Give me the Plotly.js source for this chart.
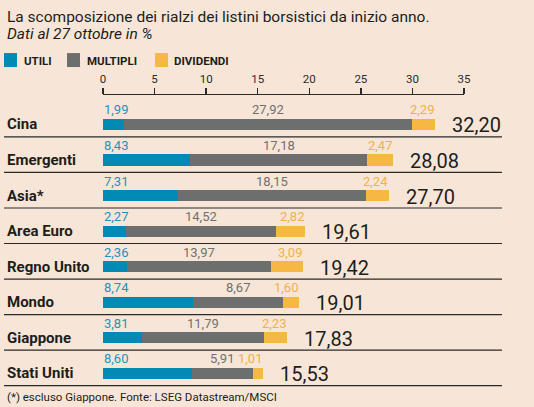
<!DOCTYPE html>
<html>
<head>
<meta charset="utf-8">
<script src="https://cdn.plot.ly/plotly-3.0.1.min.js"></script>
<style>
html,body{margin:0;padding:0;background:#f7e6d7;}
#chart{width:534px;height:407px;}
</style>
</head>
<body>
<div id="chart"></div>
<script>
var categories = ["Cina","Emergenti","Asia*","Area Euro","Regno Unito","Mondo","Giappone","Stati Uniti"];
var utili     = [1.99, 8.43, 7.31, 2.27, 2.36, 8.74, 3.81, 8.60];
var multipli  = [27.92, 17.18, 18.15, 14.52, 13.97, 8.67, 11.79, 5.91];
var dividendi = [2.29, 2.47, 2.24, 2.82, 3.09, 1.60, 2.23, 1.01];
var totali    = [32.20, 28.08, 27.70, 19.61, 19.42, 19.01, 17.83, 15.53];
var tickVals  = [0, 5, 10, 15, 20, 25, 30, 35];
var seriesNames = ["UTILI", "MULTIPLI", "DIVIDENDI"];

var C_BLUE = "#008ab4", C_GRAY = "#6d6f6e", C_YEL = "#f5b843";
var C_BLUE_T = "#1b93bf", C_GRAY_T = "#6f7170", C_YEL_T = "#eeb24a";
var BG = "#f7e6d7";
var FONT = "Roboto, 'Open Sans', sans-serif";

function fmt(v){ return v.toFixed(2).replace(".", ","); }

var W = 534, H = 407;
var L = 103, R = 70, T = 95, B = 15.5;
var plotW = W - L - R, plotH = H - T - B;
function px2paperX(px){ return (px - L) / plotW; }
function px2paperY(py){ return (H - B - py) / plotH; }

var traces = [
  {type:"bar", orientation:"h", y:categories, x:utili, name:seriesNames[0], marker:{color:C_BLUE}, hoverinfo:"x+name"},
  {type:"bar", orientation:"h", y:categories, x:multipli, name:seriesNames[1], marker:{color:C_GRAY}, hoverinfo:"x+name"},
  {type:"bar", orientation:"h", y:categories, x:dividendi, name:seriesNames[2], marker:{color:C_YEL}, hoverinfo:"x+name"}
];

var annotations = [];
var shapes = [];

for (var i = 0; i < categories.length; i++) {
  var c = categories[i];
  annotations.push({xref:"paper", yref:"y", x:px2paperX(5), y:c, xanchor:"left", yanchor:"middle",
    text:"<b>"+c+"</b>", showarrow:false, font:{family:FONT, size:15, color:"#1d1d1b"}});
  annotations.push({xref:"x", yref:"y", x:0, y:c, xanchor:"left", yanchor:"middle", yshift:14.5, xshift:-1,
    text:fmt(utili[i]), showarrow:false, font:{family:FONT, size:13, color:C_BLUE_T}});
  annotations.push({xref:"x", yref:"y", x:utili[i] + multipli[i]/2, y:c, xanchor:"center", yanchor:"middle", yshift:14.5,
    text:fmt(multipli[i]), showarrow:false, font:{family:FONT, size:13, color:C_GRAY_T}});
  annotations.push({xref:"x", yref:"y", x:utili[i] + multipli[i] + dividendi[i], y:c, xanchor:"right", yanchor:"middle", yshift:14.5, xshift:1,
    text:fmt(dividendi[i]), showarrow:false, font:{family:FONT, size:13, color:C_YEL_T}});
  annotations.push({xref:"x", yref:"y", x:utili[i] + multipli[i] + dividendi[i], y:c, xanchor:"left", yanchor:"middle", xshift:15, yshift:-1,
    text:fmt(totali[i]), showarrow:false, font:{family:FONT, size:20, color:"#1d1d1b"}});
  shapes.push({type:"line", xref:"paper", yref:"y", x0:px2paperX(4), x1:px2paperX(502), y0:i+0.35, y1:i+0.35,
    line:{color:"#2a2a2a", width:1.2}});
}

annotations.push({xref:"paper", yref:"paper", x:px2paperX(5), y:px2paperY(17), xanchor:"left", yanchor:"middle",
  text:"La scomposizione dei rialzi dei listini borsistici da inizio anno.", showarrow:false,
  font:{family:FONT, size:15.5, color:"#1d1d1b"}});
annotations.push({xref:"paper", yref:"paper", x:px2paperX(5), y:px2paperY(34), xanchor:"left", yanchor:"middle",
  text:"<i>Dati al 27 ottobre in %</i>", showarrow:false,
  font:{family:FONT, size:15.5, color:"#1d1d1b"}});
annotations.push({xref:"paper", yref:"paper", x:px2paperX(5), y:px2paperY(398), xanchor:"left", yanchor:"middle",
  text:"(*) escluso Giappone. Fonte: LSEG Datastream/MSCI", showarrow:false,
  font:{family:FONT, size:11.5, color:"#1d1d1b"}});

var legendSq = [4, 67, 155];
var legendTx = [22, 85, 172];
var legendCol = [C_BLUE, C_GRAY, C_YEL];
for (var k = 0; k < 3; k++) {
  shapes.push({type:"rect", xref:"paper", yref:"paper",
    x0:px2paperX(legendSq[k]), x1:px2paperX(legendSq[k]+13),
    y0:px2paperY(67), y1:px2paperY(53), fillcolor:legendCol[k], line:{width:0}});
  annotations.push({xref:"paper", yref:"paper", x:px2paperX(legendTx[k]), y:px2paperY(60.5), xanchor:"left", yanchor:"middle",
    text:"<b>"+seriesNames[k]+"</b>", showarrow:false, font:{family:FONT, size:11.5, color:"#1d1d1b"}});
}

var layout = {
  width:W, height:H,
  margin:{l:L, r:R, t:T, b:B, pad:0},
  paper_bgcolor:BG, plot_bgcolor:BG,
  barmode:"stack", bargap:0.69,
  showlegend:false,
  xaxis:{side:"top", range:[0,35], tickvals:tickVals, ticktext:tickVals.map(String),
    showgrid:false, zeroline:false, showline:true, linecolor:"#2a2a2a", linewidth:1.5,
    ticks:"outside", ticklen:6, tickwidth:1.3, tickcolor:"#2a2a2a",
    tickfont:{family:FONT, size:11.5, color:"#2a2a2a"}, fixedrange:true},
  yaxis:{type:"category", categoryorder:"array", categoryarray:categories,
    range:[7.5, -0.829], showticklabels:false, showgrid:false, zeroline:false, showline:false, ticks:"", fixedrange:true},
  annotations:annotations,
  shapes:shapes,
  font:{family:FONT}
};

Plotly.newPlot("chart", traces, layout, {displayModeBar:false, staticPlot:true});
</script>
</body>
</html>
